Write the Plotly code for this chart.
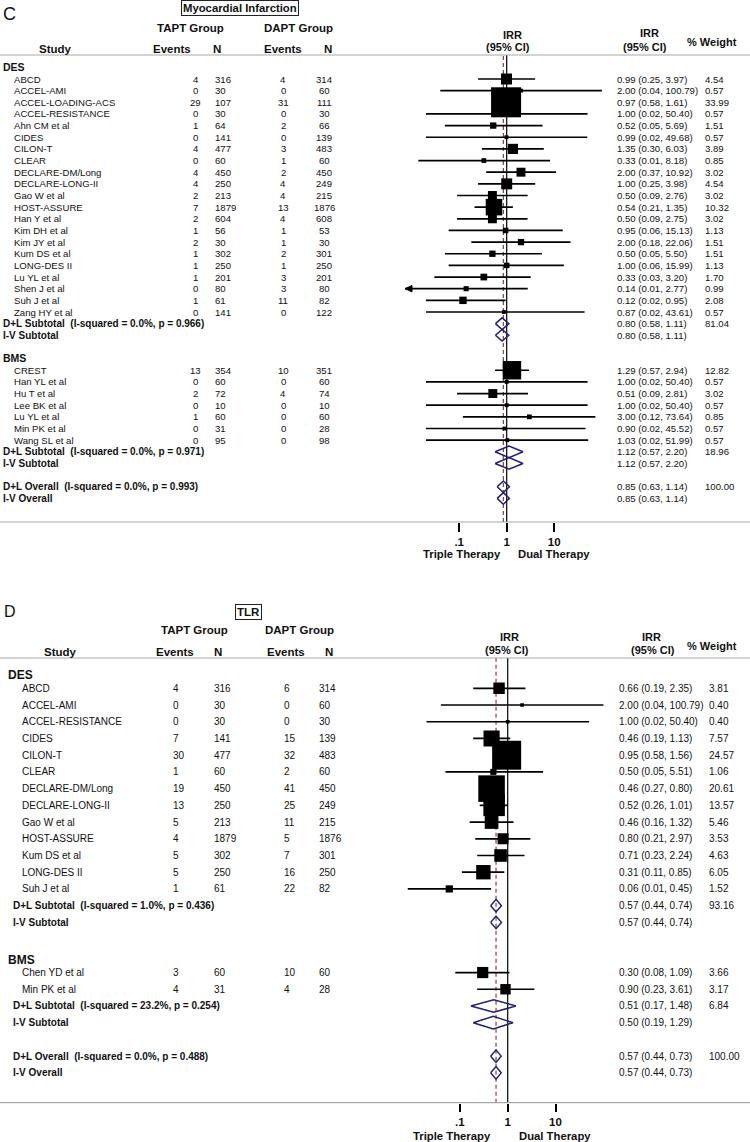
import math
import plotly.graph_objects as go

W, H = 750, 1142
FONT = "Liberation Sans, Arial, sans-serif"

# ======================= DATA : panel C =======================
c_letter = "C"
c_title = "Myocardial Infarction"
c_des_study = ["ABCD", "ACCEL-AMI", "ACCEL-LOADING-ACS", "ACCEL-RESISTANCE", "Ahn CM et al",
               "CIDES", "CILON-T", "CLEAR", "DECLARE-DM/Long", "DECLARE-LONG-II",
               "Gao W et al", "HOST-ASSURE", "Han Y et al", "Kim DH et al", "Kim JY et al",
               "Kum DS et al", "LONG-DES II", "Lu YL et al", "Shen J et al", "Suh J et al",
               "Zang HY et al"]
c_des_e1 = [4, 0, 29, 0, 1, 0, 4, 0, 4, 4, 2, 7, 2, 1, 2, 1, 1, 1, 0, 1, 0]
c_des_n1 = [316, 30, 107, 30, 64, 141, 477, 60, 450, 250, 213, 1879, 604, 56, 30, 302, 250, 201, 80, 61, 141]
c_des_e2 = [4, 0, 31, 0, 2, 0, 3, 1, 2, 4, 4, 13, 4, 1, 1, 2, 1, 3, 3, 11, 0]
c_des_n2 = [314, 60, 111, 30, 66, 139, 483, 60, 450, 249, 215, 1876, 608, 53, 30, 301, 250, 201, 80, 82, 122]
c_des_irr = [0.99, 2.00, 0.97, 1.00, 0.52, 0.99, 1.35, 0.33, 2.00, 1.00, 0.50, 0.54, 0.50, 0.95, 2.00,
             0.50, 1.00, 0.33, 0.14, 0.12, 0.87]
c_des_lo = [0.25, 0.04, 0.58, 0.02, 0.05, 0.02, 0.30, 0.0138, 0.37, 0.25, 0.09, 0.21, 0.09, 0.06, 0.18,
            0.05, 0.06, 0.03, 0.0070, 0.02, 0.02]
c_des_hi = [3.97, 100.79, 1.61, 50.40, 5.69, 49.68, 6.03, 8.18, 10.92, 3.98, 2.76, 1.35, 2.75, 15.13, 22.06,
            5.50, 15.99, 3.20, 2.77, 0.95, 43.61]
c_des_w = [4.54, 0.57, 33.99, 0.57, 1.51, 0.57, 3.89, 0.85, 3.02, 4.54, 3.02, 10.32, 3.02, 1.13, 1.51,
           1.51, 1.13, 1.70, 0.99, 2.08, 0.57]
c_des_dl = [0.80, 0.58, 1.11]
c_des_dl_w = 81.04
c_des_het = "I-squared = 0.0%, p = 0.966"
c_des_iv = [0.80, 0.58, 1.11]

c_bms_study = ["CREST", "Han YL et al", "Hu T et al", "Lee BK et al", "Lu YL et al", "Min PK et al", "Wang SL et al"]
c_bms_e1 = [13, 0, 2, 0, 1, 0, 0]
c_bms_n1 = [354, 60, 72, 10, 60, 31, 95]
c_bms_e2 = [10, 0, 4, 0, 0, 0, 0]
c_bms_n2 = [351, 60, 74, 10, 60, 28, 98]
c_bms_irr = [1.29, 1.00, 0.51, 1.00, 3.00, 0.90, 1.03]
c_bms_lo = [0.57, 0.02, 0.09, 0.02, 0.12, 0.02, 0.02]
c_bms_hi = [2.94, 50.40, 2.81, 50.40, 73.64, 45.52, 51.99]
c_bms_w = [12.82, 0.57, 3.02, 0.57, 0.85, 0.57, 0.57]
c_bms_dl = [1.12, 0.57, 2.20]
c_bms_dl_w = 18.96
c_bms_het = "I-squared = 0.0%, p = 0.971"
c_bms_iv = [1.12, 0.57, 2.20]

c_all_dl = [0.85, 0.63, 1.14]
c_all_w = 100.00
c_all_het = "I-squared = 0.0%, p = 0.993"
c_all_iv = [0.85, 0.63, 1.14]

# ======================= DATA : panel D =======================
d_letter = "D"
d_title = "TLR"
d_des_study = ["ABCD", "ACCEL-AMI", "ACCEL-RESISTANCE", "CIDES", "CILON-T", "CLEAR", "DECLARE-DM/Long",
               "DECLARE-LONG-II", "Gao W et al", "HOST-ASSURE", "Kum DS et al", "LONG-DES II", "Suh J et al"]
d_des_e1 = [4, 0, 0, 7, 30, 1, 19, 13, 5, 4, 5, 5, 1]
d_des_n1 = [316, 30, 30, 141, 477, 60, 450, 250, 213, 1879, 302, 250, 61]
d_des_e2 = [6, 0, 0, 15, 32, 2, 41, 25, 11, 5, 7, 16, 22]
d_des_n2 = [314, 60, 30, 139, 483, 60, 450, 249, 215, 1876, 301, 250, 82]
d_des_irr = [0.66, 2.00, 1.00, 0.46, 0.95, 0.50, 0.46, 0.52, 0.46, 0.80, 0.71, 0.31, 0.06]
d_des_lo = [0.19, 0.04, 0.02, 0.19, 0.58, 0.05, 0.27, 0.26, 0.16, 0.21, 0.23, 0.11, 0.0081]
d_des_hi = [2.35, 100.79, 50.40, 1.13, 1.56, 5.51, 0.80, 1.01, 1.32, 2.97, 2.24, 0.85, 0.45]
d_des_w = [3.81, 0.40, 0.40, 7.57, 24.57, 1.06, 20.61, 13.57, 5.46, 3.53, 4.63, 6.05, 1.52]
d_des_dl = [0.57, 0.44, 0.74]
d_des_dl_w = 93.16
d_des_het = "I-squared = 1.0%, p = 0.436"
d_des_iv = [0.57, 0.44, 0.74]

d_bms_study = ["Chen YD et al", "Min PK et al"]
d_bms_e1 = [3, 4]
d_bms_n1 = [60, 31]
d_bms_e2 = [10, 4]
d_bms_n2 = [60, 28]
d_bms_irr = [0.30, 0.90]
d_bms_lo = [0.08, 0.23]
d_bms_hi = [1.09, 3.61]
d_bms_w = [3.66, 3.17]
d_bms_dl = [0.51, 0.17, 1.48]
d_bms_dl_w = 6.84
d_bms_het = "I-squared = 23.2%, p = 0.254"
d_bms_iv = [0.50, 0.19, 1.29]

d_all_dl = [0.57, 0.44, 0.73]
d_all_w = 100.00
d_all_het = "I-squared = 0.0%, p = 0.488"
d_all_iv = [0.57, 0.44, 0.73]

tick_vals = [0.1, 1, 10]
tick_text = [".1", "1", "10"]
group_labels = ["TAPT Group", "DAPT Group"]
col_labels = ["Study", "Events", "N", "Events", "N"]
favours = ["Triple Therapy", "Dual Therapy"]

SECTIONS_C = [
    dict(label="DES", study=c_des_study, e1=c_des_e1, n1=c_des_n1, e2=c_des_e2, n2=c_des_n2,
         irr=c_des_irr, lo=c_des_lo, hi=c_des_hi, w=c_des_w, dl=c_des_dl, dl_w=c_des_dl_w,
         het=c_des_het, iv=c_des_iv),
    dict(label="BMS", study=c_bms_study, e1=c_bms_e1, n1=c_bms_n1, e2=c_bms_e2, n2=c_bms_n2,
         irr=c_bms_irr, lo=c_bms_lo, hi=c_bms_hi, w=c_bms_w, dl=c_bms_dl, dl_w=c_bms_dl_w,
         het=c_bms_het, iv=c_bms_iv),
]
OVERALL_C = dict(dl=c_all_dl, dl_w=c_all_w, het=c_all_het, iv=c_all_iv)

SECTIONS_D = [
    dict(label="DES", study=d_des_study, e1=d_des_e1, n1=d_des_n1, e2=d_des_e2, n2=d_des_n2,
         irr=d_des_irr, lo=d_des_lo, hi=d_des_hi, w=d_des_w, dl=d_des_dl, dl_w=d_des_dl_w,
         het=d_des_het, iv=d_des_iv),
    dict(label="BMS", study=d_bms_study, e1=d_bms_e1, n1=d_bms_n1, e2=d_bms_e2, n2=d_bms_n2,
         irr=d_bms_irr, lo=d_bms_lo, hi=d_bms_hi, w=d_bms_w, dl=d_bms_dl, dl_w=d_bms_dl_w,
         het=d_bms_het, iv=d_bms_iv),
]
OVERALL_D = dict(dl=d_all_dl, dl_w=d_all_w, het=d_all_het, iv=d_all_iv)

# ======================= STYLE / LAYOUT =======================
STY_C = dict(
    top=55, bot=522, row0=79, step=11.65, hdr_off=12,
    null=506.7, dec=47.5, dom=(405, 622),
    x_sec=2, x_name=13, x_sub=2,
    cols=[(196, 'center'), (213.5, 'left'), (283, 'center'), (324, 'center')],
    x_irr=615.5, x_w=704,
    fs=9.6, fs_sub=10, fs_sec=10.5, fs_hdr=11.5,
    sq=5.15, dia=5.8, ticklen=9,
    letter=(2, 14, 18),
    title=(239.5, 8, 11.3),
    groups_y=28, groups_x=(190.3, 298),
    colhdr_y=49, colhdr_x=(55, 172.3, 217, 283.3, 328.3),
    irr_hdr=(512, 35, 508, 47),
    irr_hdr_r=(649, 33, 645, 47),
    wt_hdr=(712, 42),
    therapy=(501.7, 516.7, 554),
)
STY_D = dict(
    top=658, bot=1102.7, row0=688.3, step=16.72, hdr_off=13,
    null=507.7, dec=47.8, dom=(405, 622),
    x_sec=7, x_name=21, x_sub=12,
    cols=[(172, 'left'), (213, 'left'), (283, 'left'), (318, 'left')],
    x_irr=617.5, x_w=708,
    fs=10, fs_sub=10, fs_sec=12, fs_hdr=11.5,
    sq=5.85, dia=6.3, ticklen=8,
    letter=(3, 611.7, 16),
    title=(248.5, 611.7, 11.5),
    groups_y=630, groups_x=(194, 299),
    colhdr_y=651.7, colhdr_x=(60, 175, 218, 286, 329),
    irr_hdr=(509, 636.7, 507, 650),
    irr_hdr_r=(651, 636.7, 653, 650),
    wt_hdr=(712, 646),
    therapy=(491.7, 518.3, 1136),
)

TXT = "#111111"
NAVY = "#1f1f78"
MAROON = "#8f3a3f"
GREY = "#a8a8a8"


def T(text, x_px, y, yref='paper', anchor='left', size=10, bold=False, **kw):
    if bold:
        text = "<b>" + text + "</b>"
    yy = (1 - y / H) if yref == 'paper' else y
    return dict(text=text, x=x_px / W, xref='paper', y=yy, yref=yref, xanchor=anchor,
                yanchor='middle', showarrow=False, borderpad=0,
                font=dict(family=FONT, size=size, color=TXT), **kw)


def fmt(v):
    return f"{v[0]:.2f} ({v[1]:.2f}, {v[2]:.2f})"


fig = go.Figure()
all_anns = []
all_shapes = []


def build(sty, sections, overall, letter, title, xa, ya):
    xname = 'xaxis' + xa[1:]
    yname = 'yaxis' + ya[1:]

    def rows(px):
        return (px - sty['row0']) / sty['step']

    yr = [rows(sty['bot']), rows(sty['top'])]
    xr = [(sty['dom'][0] - sty['null']) / sty['dec'], (sty['dom'][1] - sty['null']) / sty['dec']]
    xmin = 10 ** xr[0]
    fig.update_layout(**{
        xname: dict(type='log', domain=[sty['dom'][0] / W, sty['dom'][1] / W], range=xr, anchor=ya,
                    tickmode='array', tickvals=tick_vals,
                    ticktext=["<b>" + t + "</b>" for t in tick_text],
                    ticks='outside', ticklen=sty['ticklen'], tickwidth=1.6, tickcolor='black',
                    showgrid=False, zeroline=False, showline=False, fixedrange=True,
                    tickfont=dict(family=FONT, size=11.5, color=TXT)),
        yname: dict(domain=[1 - sty['bot'] / H, 1 - sty['top'] / H], range=yr, anchor=xa,
                    visible=False, fixedrange=True),
    })

    anns = []
    ci_x, ci_y, sq_x, sq_y, sq_s = [], [], [], [], []
    arrows, diamonds = [], []
    dia_h = sty['dia'] / sty['step']
    hdr_off = sty['hdr_off'] / sty['step']
    row, last = 0, None
    for sec in sections:
        if last is not None:
            row = last + 3
        anns.append(T(sec['label'], sty['x_sec'], row - hdr_off, ya, 'left', sty['fs_sec'], True))
        for i, name in enumerate(sec['study']):
            r = row + i
            anns.append(T(name, sty['x_name'], r, ya, 'left', sty['fs']))
            for (cx, anc), v in zip(sty['cols'], (sec['e1'][i], sec['n1'][i], sec['e2'][i], sec['n2'][i])):
                anns.append(T(str(v), cx, r, ya, anc, sty['fs']))
            e, lo, hi = sec['irr'][i], sec['lo'][i], sec['hi'][i]
            anns.append(T(fmt((e, lo, hi)), sty['x_irr'], r, ya, 'left', sty['fs']))
            anns.append(T(f"{sec['w'][i]:.2f}", sty['x_w'], r, ya, 'left', sty['fs']))
            ci_x += [max(lo, xmin), hi, None]
            ci_y += [r, r, None]
            if lo < xmin:
                arrows.append(r)
            sq_x.append(e)
            sq_y.append(r)
            sq_s.append(sty['sq'] * math.sqrt(sec['w'][i]))
        r_dl = row + len(sec['study'])
        r_iv = r_dl + 1
        anns.append(T("D+L Subtotal\u00a0 (" + sec['het'] + ")", sty['x_sub'], r_dl, ya, 'left', sty['fs_sub'], True))
        anns.append(T("I-V Subtotal", sty['x_sub'], r_iv, ya, 'left', sty['fs_sub'], True))
        anns.append(T(fmt(sec['dl']), sty['x_irr'], r_dl, ya, 'left', sty['fs']))
        anns.append(T(f"{sec['dl_w']:.2f}", sty['x_w'], r_dl, ya, 'left', sty['fs']))
        anns.append(T(fmt(sec['iv']), sty['x_irr'], r_iv, ya, 'left', sty['fs']))
        diamonds += [(sec['dl'], r_dl), (sec['iv'], r_iv)]
        last = r_iv
    r_odl = last + 2
    r_oiv = r_odl + 1
    anns.append(T("D+L Overall\u00a0 (" + overall['het'] + ")", sty['x_sub'], r_odl, ya, 'left', sty['fs_sub'], True))
    anns.append(T("I-V Overall", sty['x_sub'], r_oiv, ya, 'left', sty['fs_sub'], True))
    anns.append(T(fmt(overall['dl']), sty['x_irr'], r_odl, ya, 'left', sty['fs']))
    anns.append(T(f"{overall['dl_w']:.2f}", sty['x_w'], r_odl, ya, 'left', sty['fs']))
    anns.append(T(fmt(overall['iv']), sty['x_irr'], r_oiv, ya, 'left', sty['fs']))
    diamonds += [(overall['dl'], r_odl), (overall['iv'], r_oiv)]

    common = dict(xaxis=xa, yaxis=ya, hoverinfo='skip', showlegend=False)
    # pooled (D+L overall) dashed line and null line
    fig.add_trace(go.Scatter(x=[overall['dl'][0]] * 2, y=yr, mode='lines',
                             line=dict(color=MAROON, width=1.2, dash='4px,3px'), **common))
    fig.add_trace(go.Scatter(x=[1, 1], y=yr, mode='lines', line=dict(color='black', width=1.2), **common))
    # confidence intervals
    fig.add_trace(go.Scatter(x=ci_x, y=ci_y, mode='lines', line=dict(color='black', width=1.7), **common))
    # arrows for truncated CIs
    k = 10 ** (7 / sty['dec'])
    ah = 3.2 / sty['step']
    for r in arrows:
        fig.add_trace(go.Scatter(x=[xmin, xmin * k, xmin * k, xmin], y=[r, r - ah, r + ah, r],
                                 mode='lines', fill='toself', fillcolor='black',
                                 line=dict(color='black', width=1), **common))
    # weight squares
    fig.add_trace(go.Scatter(x=sq_x, y=sq_y, mode='markers', opacity=1,
                             marker=dict(symbol='square', size=sq_s, color='black', opacity=1,
                                         line=dict(width=0)),
                             **common))
    # pooled diamonds
    for (v, r) in diamonds:
        e, lo, hi = v
        fig.add_trace(go.Scatter(x=[lo, e, hi, e, lo], y=[r, r - dia_h, r, r + dia_h, r], mode='lines',
                                 line=dict(color=NAVY, width=1.5), **common))

    # header texts
    lx, ly, ls = sty['letter']
    anns.append(T(letter, lx, ly, 'paper', 'left', ls))
    tx, ty, ts = sty['title']
    anns.append(T(title, tx, ty, 'paper', 'center', ts, True, bordercolor='#222222', borderwidth=1))
    anns[-1]['borderpad'] = 1
    for gx, g in zip(sty['groups_x'], group_labels):
        anns.append(T(g, gx, sty['groups_y'], 'paper', 'center', sty['fs_hdr'], True))
    for cx, c in zip(sty['colhdr_x'], col_labels):
        anns.append(T(c, cx, sty['colhdr_y'], 'paper', 'center', sty['fs_hdr'], True))
    a, b, c, d = sty['irr_hdr']
    anns.append(T("IRR", a, b, 'paper', 'center', sty['fs_hdr'] - 0.5, True))
    anns.append(T("(95% CI)", c, d, 'paper', 'center', sty['fs_hdr'] - 0.5, True))
    a, b, c, d = sty['irr_hdr_r']
    anns.append(T("IRR", a, b, 'paper', 'center', sty['fs_hdr'] - 0.5, True))
    anns.append(T("(95% CI)", c, d, 'paper', 'center', sty['fs_hdr'] - 0.5, True))
    wx, wy = sty['wt_hdr']
    anns.append(T("% Weight", wx, wy, 'paper', 'center', sty['fs_hdr'] - 0.5, True))
    t1, t2, ty2 = sty['therapy']
    anns.append(T(favours[0], t1, ty2, 'paper', 'right', 11.3, True))
    anns.append(T(favours[1], t2, ty2, 'paper', 'left', 11.3, True))
    all_anns.extend(anns)
    for py in (sty['top'], sty['bot']):
        all_shapes.append(dict(type='line', xref='paper', yref='paper', x0=0, x1=1,
                               y0=1 - py / H, y1=1 - py / H, line=dict(color=GREY, width=1.2)))


build(STY_C, SECTIONS_C, OVERALL_C, c_letter, c_title, 'x', 'y')
build(STY_D, SECTIONS_D, OVERALL_D, d_letter, d_title, 'x2', 'y2')

fig.update_layout(width=W, height=H, autosize=False, margin=dict(l=0, r=0, t=0, b=0),
                  paper_bgcolor='white', plot_bgcolor='rgba(0,0,0,0)',
                  annotations=all_anns, shapes=all_shapes, showlegend=False)

fig.write_html("out.html", config={'displayModeBar': False},
               post_script="document.body.style.margin='0';document.body.style.overflow='hidden';")
